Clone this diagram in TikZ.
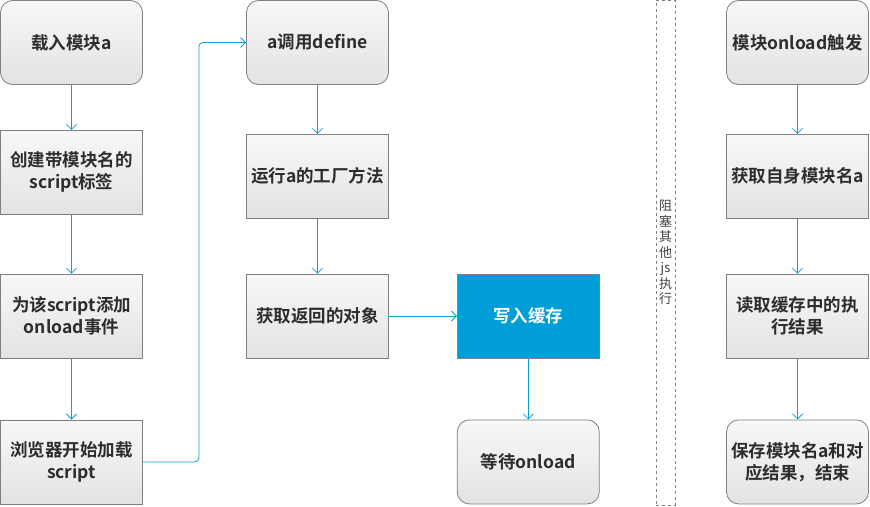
\documentclass[tikz,border=0pt]{standalone}
\usepackage{fontspec}
\setmainfont{Noto Sans CJK SC}[BoldFont={Noto Sans CJK SC Bold}]
\usetikzlibrary{arrows.meta,positioning}
\definecolor{edge}{RGB}{128,128,128}
\definecolor{flow}{RGB}{10,160,215}
\definecolor{cache}{RGB}{0,158,217}
\definecolor{txt}{RGB}{45,45,45}

\begin{document}
\begin{tikzpicture}[every node/.style={font=\bfseries\fontsize{17.5}{22}\selectfont},
  box/.style={draw=edge,line width=0.8pt,top color=black!3,bottom color=black!11,text=txt,align=center,minimum width=142pt,minimum height=84pt,text width=138pt,inner sep=2pt},
  term/.style={box,rounded corners=12pt},
  hot/.style={box,fill=cache,top color=cache,bottom color=cache,text=white},
  a/.style={-{Straight Barb[length=5pt,width=10pt]},line width=0.8pt,draw=flow}]
  \useasboundingbox (0,0) rectangle (870pt,-506pt);
  % loading column
  \node[term] (load) at (71.5pt,-42.5pt) {载入模块a};
  \node[box,below=45pt of load] (tag) {创建带模块名的\\script标签};
  \node[box,below=59pt of tag] (onl) {为该script添加\\onload事件};
  \node[box,below=61pt of onl] (fetch) {浏览器开始加载\\script};
  % define column
  \node[term] (def) at (317.5pt,-42.5pt) {a调用define};
  \node[box,below=49pt of def] (fac) {运行a的工厂方法};
  \node[box,below=55pt of fac] (obj) {获取返回的对象};
  \node[hot,right=68pt of obj] (wcache) {写入缓存};
  \node[term,below=61pt of wcache] (wait) {等待onload};
  % blocking marker
  \node[draw=edge,dashed,line width=0.8pt,minimum width=19pt,minimum height=505pt,inner sep=0pt,align=center,
    font=\fontsize{13}{15.5}\selectfont,text=txt!90] (block) at (665.5pt,-252.5pt) {阻\\塞\\其\\他\\js\\执\\行};
  % onload column
  \node[term] (fire) at (797.5pt,-42.5pt) {模块onload触发};
  \node[box,below=49pt of fire] (name) {获取自身模块名a};
  \node[box,below=55pt of name] (read) {读取缓存中的执\\行结果};
  \node[term,below=61pt of read] (save) {保存模块名a和对\\应结果，结束};
  \draw[a] (load)--(tag); \draw[a] (tag)--(onl); \draw[a] (onl)--(fetch);
  \draw[a,rounded corners=4pt] (fetch.east) -- ++(56pt,0) |- (def.west);
  \draw[a] (def)--(fac); \draw[a] (fac)--(obj); \draw[a] (obj)--(wcache); \draw[a] (wcache)--(wait);
  \draw[a] (fire)--(name); \draw[a] (name)--(read); \draw[a] (read)--(save);
\end{tikzpicture}
\end{document}
